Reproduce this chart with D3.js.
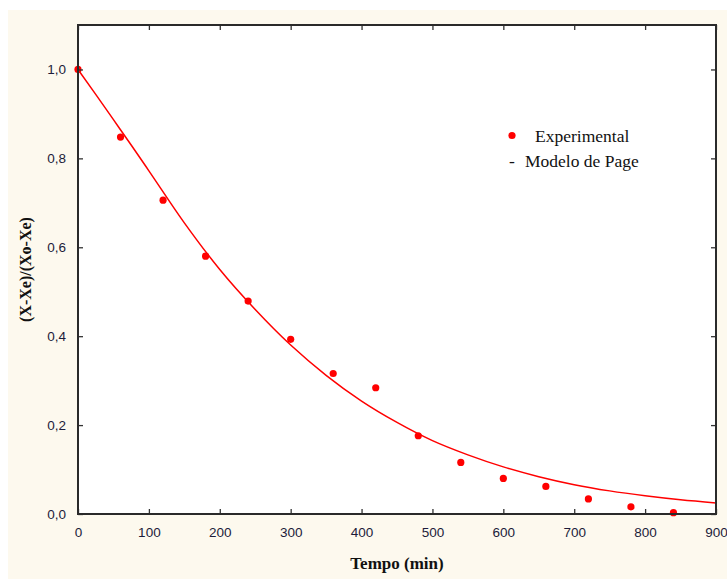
<!DOCTYPE html>
<html><head><meta charset="utf-8">
<script src="https://cdn.jsdelivr.net/npm/d3@7"></script>
<style>html,body{margin:0;padding:0;background:#fff;}svg{display:block;}</style>
</head><body>
<script>
// Experimental data (time in min, moisture ratio)
const expTime = [0, 60, 120, 180, 240, 300, 360, 420, 480, 540, 600, 660, 720, 780, 840];
const expMR   = [1.0, 0.848, 0.706, 0.580, 0.479, 0.393, 0.316, 0.284, 0.176, 0.116, 0.080, 0.062, 0.034, 0.016, 0.003];
// Page model curve
const modelTime = [0, 25, 50, 75, 100, 150, 200, 250, 300, 350, 400, 450, 500, 550, 600, 650, 700, 750, 800, 850, 900];
const modelMR   = [1.0, 0.944, 0.887, 0.830, 0.772, 0.655, 0.550, 0.460, 0.380, 0.312, 0.254, 0.206, 0.165, 0.133, 0.106, 0.084, 0.066, 0.052, 0.041, 0.032, 0.025];
const xTicks = [0, 100, 200, 300, 400, 500, 600, 700, 800, 900];
const yTicks = [0, 0.2, 0.4, 0.6, 0.8, 1.0];
const legendLabels = ["Experimental", "Modelo de Page"];

const W = 727, H = 579;
const m = {left: 78, top: 25, right: 716, bottom: 514};
const svg = d3.select("body").append("svg").attr("width", W).attr("height", H);

svg.append("rect").attr("x", 8).attr("y", 10).attr("width", W - 8).attr("height", H - 10).attr("fill", "#fdf9ee");
svg.append("rect").attr("x", m.left).attr("y", m.top).attr("width", m.right - m.left).attr("height", m.bottom - m.top).attr("fill", "#fff");

const x = d3.scaleLinear().domain([0, 900]).range([m.left, m.right]);
const y = d3.scaleLinear().domain([0, 1.1]).range([m.bottom, m.top]);

const red = "#ff0000";
const line = d3.line().x((d, i) => x(modelTime[i])).y((d, i) => y(modelMR[i])).curve(d3.curveMonotoneX);
svg.append("path").datum(modelMR).attr("d", line).attr("fill", "none").attr("stroke", red).attr("stroke-width", 1.5);

svg.append("g").selectAll("circle").data(expMR).join("circle")
  .attr("cx", (d, i) => x(expTime[i])).attr("cy", d => y(d)).attr("r", 3.6).attr("fill", red);

const fmt = d => d3.format(".1f")(d).replace(".", ",");
const tickColor = "#333";
const axStyle = g => {
  g.select(".domain").remove();
  g.selectAll(".tick line").attr("stroke", tickColor).attr("stroke-width", 1.3);
  g.selectAll(".tick text").attr("font-family", "Liberation Sans, Arial, sans-serif").attr("font-size", 13.5).attr("fill", "#1c1c3a");
};
svg.append("g").attr("transform", `translate(0,${m.bottom})`)
  .call(d3.axisBottom(x).tickValues(xTicks).tickSizeInner(-5).tickSizeOuter(0).tickPadding(13).tickFormat(d3.format("d"))).call(axStyle);
svg.append("g").attr("transform", `translate(0,${m.top})`)
  .call(d3.axisTop(x).tickValues(xTicks).tickSizeInner(-5).tickSizeOuter(0).tickFormat("")).call(axStyle);
svg.append("g").attr("transform", `translate(${m.left},0)`)
  .call(d3.axisLeft(y).tickValues(yTicks).tickSizeInner(-5).tickSizeOuter(0).tickPadding(12).tickFormat(fmt)).call(axStyle);
svg.append("g").attr("transform", `translate(${m.right},0)`)
  .call(d3.axisRight(y).tickValues(yTicks).tickSizeInner(-5).tickSizeOuter(0).tickFormat("")).call(axStyle);

svg.append("rect").attr("x", m.left).attr("y", m.top).attr("width", m.right - m.left).attr("height", m.bottom - m.top)
  .attr("fill", "none").attr("stroke", "#2a2a2a").attr("stroke-width", 2);

svg.append("text").attr("x", (m.left + m.right) / 2).attr("y", 569).attr("text-anchor", "middle")
  .attr("font-family", "Liberation Serif, Times New Roman, serif").attr("font-weight", "bold").attr("font-size", 17)
  .attr("fill", "#111").text("Tempo (min)");
svg.append("text").attr("transform", `translate(31,${(m.top + m.bottom) / 2}) rotate(-90)`).attr("text-anchor", "middle")
  .attr("font-family", "Liberation Serif, Times New Roman, serif").attr("font-weight", "bold").attr("font-size", 16)
  .attr("fill", "#111").text("(X-Xe)/(Xo-Xe)");

// legend
const lg = svg.append("g");
lg.append("circle").attr("cx", 512).attr("cy", 135.5).attr("r", 3.6).attr("fill", red);
lg.append("text").attr("x", 535).attr("y", 141.5).attr("font-family", "Liberation Serif, Times New Roman, serif")
  .attr("font-size", 17.5).attr("fill", "#111").text(legendLabels[0]);
lg.append("text").attr("x", 509).attr("y", 167).attr("font-family", "Liberation Serif, Times New Roman, serif")
  .attr("font-size", 17.5).attr("fill", "#111").text("-");
lg.append("text").attr("x", 525).attr("y", 167).attr("font-family", "Liberation Serif, Times New Roman, serif")
  .attr("font-size", 17.5).attr("fill", "#111").text(legendLabels[1]);
</script>
</body></html>
